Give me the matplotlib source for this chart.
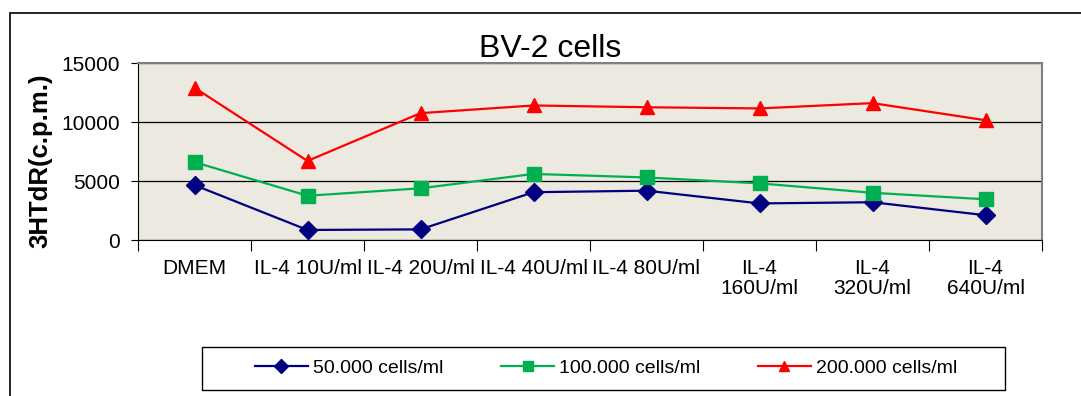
import matplotlib
matplotlib.use("Agg")
import matplotlib.pyplot as plt
from matplotlib.patches import Rectangle

plt.rcParams['font.family'] = ['Liberation Sans', 'DejaVu Sans']

categories = ["DMEM", "IL-4 10U/ml", "IL-4 20U/ml", "IL-4 40U/ml", "IL-4 80U/ml",
              "IL-4\n160U/ml", "IL-4\n320U/ml", "IL-4\n640U/ml"]
cells_50k = [4650, 850, 900, 4050, 4180, 3100, 3200, 2100]
cells_100k = [6600, 3750, 4380, 5600, 5300, 4800, 4000, 3450]
cells_200k = [12900, 6700, 10750, 11400, 11250, 11150, 11600, 10150]
series_names = ["50.000 cells/ml", "100.000 cells/ml", "200.000 cells/ml"]

W, H = 1081, 396
fig = plt.figure(figsize=(W / 100, H / 100), dpi=100)
ax = fig.add_axes([138 / W, 1 - 240 / H, 904 / W, 177 / H])
ax.set_facecolor("#ECE9E0")

x = list(range(len(categories)))
ax.plot(x, cells_50k, color="#000080", lw=1.6, marker="D", ms=9, label=series_names[0])
ax.plot(x, cells_100k, color="#00B050", lw=1.6, marker="s", ms=9.5, label=series_names[1])
ax.plot(x, cells_200k, color="#FF0000", lw=1.6, marker="^", ms=10, label=series_names[2])

ax.set_xlim(-0.5, len(categories) - 0.5)
ax.set_ylim(0, 15000)
ax.set_yticks([0, 5000, 10000, 15000])
ax.tick_params(axis="y", labelsize=15, length=5, direction="out", pad=8)
ax.yaxis.grid(True, color="black", lw=0.9)
ax.set_axisbelow(True)

# category boundaries get the tick marks, labels sit between them
ax.set_xticks([i + 0.5 for i in range(-1, len(categories))], minor=False)
ax.set_xticklabels([])
ax.set_xticks(x, minor=True)
ax.set_xticklabels(categories, minor=True, fontsize=15, linespacing=1.05)
ax.tick_params(axis="x", which="major", length=8, direction="out")
ax.tick_params(axis="x", which="minor", length=0, pad=14)

for s in ["top", "right"]:
    ax.spines[s].set_color("#808080")
    ax.spines[s].set_linewidth(1.5)
ax.spines["left"].set_color("black")
ax.spines["bottom"].set_color("black")

ax.set_ylabel("3HTdR(c.p.m.)", fontsize=18.5, fontweight="bold")
ax.yaxis.set_label_coords(-0.095, 0.45)

fig.text(550 / W, 1 - 64 / H, "BV-2 cells", fontsize=23, ha="center", va="bottom")

# outer chart frame
fig.patches.append(Rectangle((10 / W, -0.1), 1.2, 1.1 - 13 / H, transform=fig.transFigure,
                             fill=False, edgecolor="black", lw=1.2))

# legend frame drawn separately so the box can be wider than its entries
fig.patches.append(Rectangle((202 / W, 1 - 390 / H), 803 / W, 43 / H, transform=fig.transFigure,
                             fill=False, edgecolor="black", lw=1.0))
fig.legend(loc="center", ncol=3, bbox_to_anchor=(606 / W, 1 - 368 / H),
           fontsize=14, frameon=False, handlelength=2.7, handletextpad=0.25,
           columnspacing=3.0, markerscale=0.75)

fig.savefig("out.png", dpi=100)
